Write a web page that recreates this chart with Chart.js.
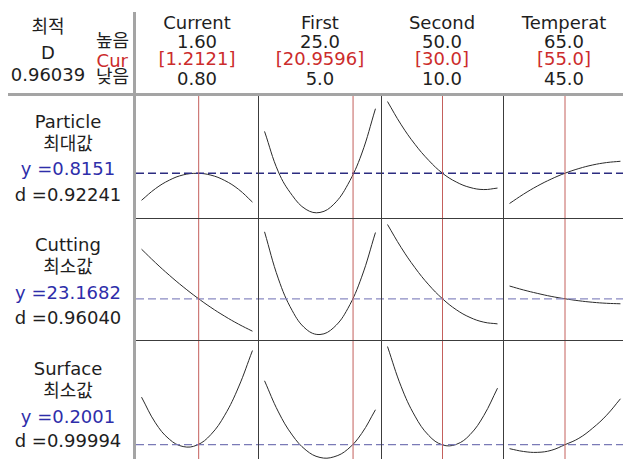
<!DOCTYPE html>
<html lang="ko">
<head>
<meta charset="utf-8">
<title>Response Optimizer</title>
<script src="https://cdn.jsdelivr.net/npm/chart.js@4.4.0/dist/chart.umd.min.js"></script>
<style>
  html, body { margin: 0; padding: 0; background: #fff; }
  #page {
    position: relative; width: 623px; height: 459px; overflow: hidden;
    font-family: "DejaVu Sans", "Noto Sans CJK KR", sans-serif;
    font-size: 18px; color: #1e1e1e;
  }
  .txt { position: absolute; white-space: nowrap; line-height: 18px; }
  .cell { position: absolute; }
  .rule { position: absolute; }
</style>
</head>
<body>
<div id="page"></div>
<script>
// ====== DATA ======
const factorNames = ["Current", "First", "Second", "Temperat"];
const factorHigh = [1.60, 25.0, 50.0, 65.0];
const factorCur = [1.2121, 20.9596, 30.0, 55.0];
const factorLow = [0.80, 5.0, 10.0, 45.0];
const highLabels = ["1.60", "25.0", "50.0", "65.0"];
const curLabels = ["[1.2121]", "[20.9596]", "[30.0]", "[55.0]"];
const lowLabels = ["0.80", "5.0", "10.0", "45.0"];

const responseNames = ["Particle", "Cutting", "Surface"];
const goalLabels = ["최대값", "최소값", "최소값"];
const predictedY = [0.8151, 23.1682, 0.2001];
const yLabels = ["y =0.8151", "y =23.1682", "y =0.2001"];
const dLabels = ["d =0.92241", "d =0.96040", "d =0.99994"];
const compositeD = "0.96039";

// predicted response at 9 evenly spaced settings (low .. high) of each factor
const particleCurves = [
  [0.7607, 0.7841, 0.8011, 0.8117, 0.8149, 0.8113, 0.8005, 0.7827, 0.7571],
  [0.8991, 0.8177, 0.7705, 0.7423, 0.7363, 0.7529, 0.7921, 0.8537, 0.9447],
  [0.9591, 0.9123, 0.8731, 0.8409, 0.8151, 0.7975, 0.7865, 0.7823, 0.7853],
  [0.7543, 0.7729, 0.7893, 0.8033, 0.8151, 0.8245, 0.8317, 0.8365, 0.8391]
];
const cuttingCurves = [
  [28.11, 26.77, 25.52, 24.36, 23.29, 22.31, 21.43, 20.64, 19.94],
  [29.84, 25.15, 21.98, 20.14, 19.61, 20.31, 22.18, 25.32, 29.77],
  [30.57, 28.26, 26.26, 24.56, 23.17, 22.08, 21.31, 20.84, 20.67],
  [24.44, 24.05, 23.71, 23.41, 23.17, 22.97, 22.82, 22.72, 22.67]
];
const surfaceCurves = [
  [0.4381, 0.3096, 0.2276, 0.1906, 0.1981, 0.2506, 0.3476, 0.4891, 0.6716],
  [0.5201, 0.3641, 0.2481, 0.1721, 0.1361, 0.1391, 0.1771, 0.2556, 0.3751],
  [0.6916, 0.4901, 0.3431, 0.2461, 0.1991, 0.2016, 0.2501, 0.3456, 0.4831],
  [0.1801, 0.1661, 0.1616, 0.1716, 0.2001, 0.2321, 0.2831, 0.3476, 0.4301]
];
const allCurves = [particleCurves, cuttingCurves, surfaceCurves];

// ====== LAYOUT ======
const colLefts = [136, 259, 382, 504];
const colWidths = [122, 122, 121, 122];
const colCenters = [197, 320, 442, 564];
const rowTops = [96, 219, 341];
const rowHeights = [122, 121, 122];
const rowBaselines = [[128, 152, 175, 201], [251, 275, 299, 324], [375, 399, 423, 447]];
const dashColors = ["#2c2c80", "#8a8ac2", "#7a7ab6"];
const dashWidths = [1.5, 1.3, 1.3];
const RED = "#cc2c2c";
const BLUE = "#2e2eaa";

const page = document.getElementById("page");

function addText(str, x, baseline, align, color) {
  const el = document.createElement("div");
  el.className = "txt";
  el.textContent = str;
  const korean = /[\uac00-\ud7af]/.test(str);
  el.style.top = (baseline - (korean ? 17 : 15)) + "px";
  el.style.width = "300px";
  el.style.textAlign = align;
  el.style.left = (align === "center" ? x - 150 : x - 300) + "px";
  if (color) el.style.color = color;
  page.appendChild(el);
}

function addRule(left, top, width, height, color) {
  const el = document.createElement("div");
  el.className = "rule";
  el.style.left = left + "px";
  el.style.top = top + "px";
  el.style.width = width + "px";
  el.style.height = height + "px";
  el.style.background = color;
  page.appendChild(el);
}

// ====== HEADER TEXT ======
addText("최적", 48, 35, "center");
addText("D", 48, 59, "center");
addText(compositeD, 48, 81, "center");
addText("높음", 129, 49, "right");
addText("Cur", 128, 67, "right", RED);
addText("낮음", 129, 85, "right");

factorNames.forEach((name, c) => {
  addText(name, colCenters[c], 29, "center");
  addText(highLabels[c], colCenters[c], 48, "center");
  addText(curLabels[c], colCenters[c], 65, "center", RED);
  addText(lowLabels[c], colCenters[c], 85, "center");
});

responseNames.forEach((name, r) => {
  const b = rowBaselines[r];
  addText(name, 68, b[0], "center");
  addText(goalLabels[r], 68, b[1], "center");
  addText(yLabels[r], 68, b[2], "center", BLUE);
  addText(dLabels[r], 68, b[3], "center");
});

// ====== FRAME LINES ======
addRule(8, 93, 615, 3, "#a4a4a4");
addRule(133, 12, 3, 447, "#a4a4a4");
[258, 381, 503].forEach(x => addRule(x, 96, 1, 363, "#3c3c3c"));
[218, 340].forEach(y => addRule(136, y, 487, 1, "#3c3c3c"));

// ====== CHARTS ======
allCurves.forEach((curves, r) => {
  const flat = curves.flat().concat(predictedY[r]);
  const lo = Math.min(...flat);
  const hi = Math.max(...flat);
  const yPad = (hi - lo) * 0.05;
  const yMin = lo - yPad;
  const yMax = hi + yPad;

  curves.forEach((values, c) => {
    const span = factorHigh[c] - factorLow[c];
    const xMin = factorLow[c] - span * 0.05;
    const xMax = factorHigh[c] + span * 0.05;
    const step = span / (values.length - 1);
    const points = values.map((v, i) => ({ x: factorLow[c] + i * step, y: v }));

    const box = document.createElement("div");
    box.className = "cell";
    box.style.left = colLefts[c] + "px";
    box.style.top = rowTops[r] + "px";
    box.style.width = colWidths[c] + "px";
    box.style.height = rowHeights[r] + "px";
    const canvas = document.createElement("canvas");
    box.appendChild(canvas);
    page.appendChild(box);

    new Chart(canvas.getContext("2d"), {
      type: "line",
      data: {
        datasets: [
          {
            data: [{ x: factorCur[c], y: yMin }, { x: factorCur[c], y: yMax }],
            borderColor: "#c4605c",
            borderWidth: 1,
            pointRadius: 0
          },
          {
            data: [{ x: xMin, y: predictedY[r] }, { x: xMax, y: predictedY[r] }],
            borderColor: dashColors[r],
            borderWidth: dashWidths[r],
            borderDash: [8, 4],
            borderDashOffset: colLefts[c] - colLefts[0],
            pointRadius: 0
          },
          {
            data: points,
            borderColor: "#2a2a2a",
            borderWidth: 1,
            tension: 0.4,
            pointRadius: 0
          }
        ]
      },
      options: {
        responsive: true,
        maintainAspectRatio: false,
        animation: false,
        events: [],
        layout: { padding: 0 },
        plugins: {
          legend: { display: false },
          tooltip: { enabled: false }
        },
        scales: {
          x: { type: "linear", display: false, min: xMin, max: xMax },
          y: { type: "linear", display: false, min: yMin, max: yMax }
        }
      }
    });
  });
});
</script>
</body>
</html>
